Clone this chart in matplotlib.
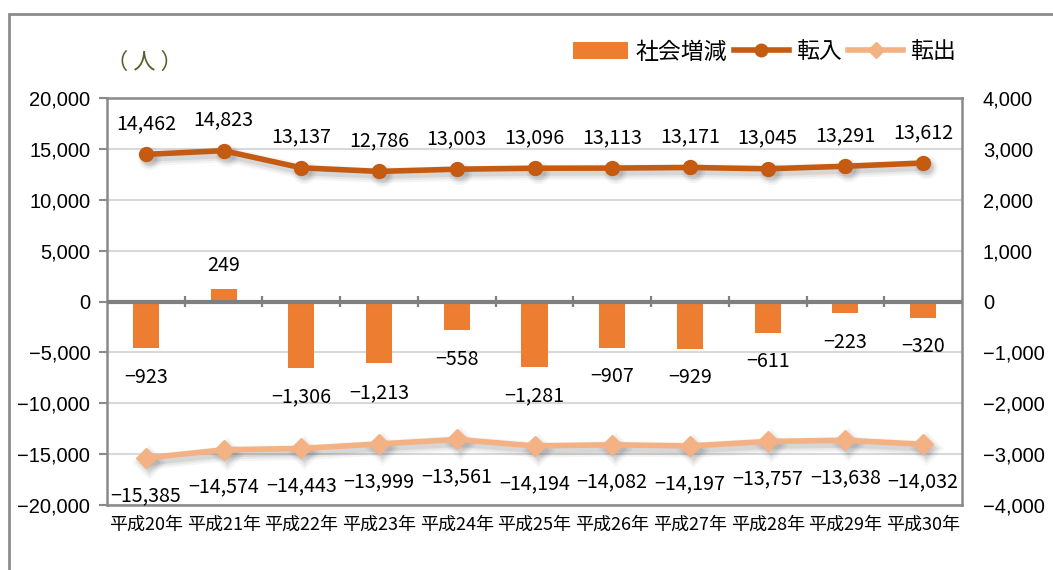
import matplotlib
matplotlib.use("Agg")
import matplotlib.pyplot as plt
import matplotlib.transforms as mtransforms
from matplotlib.lines import Line2D
from matplotlib.patches import Patch, Rectangle
import numpy as np

# ---- data -------------------------------------------------------------
years = ["平成20年", "平成21年", "平成22年", "平成23年", "平成24年", "平成25年",
         "平成26年", "平成27年", "平成28年", "平成29年", "平成30年"]
net_change = [-923, 249, -1306, -1213, -558, -1281, -907, -929, -611, -223, -320]
move_in = [14462, 14823, 13137, 12786, 13003, 13096, 13113, 13171, 13045, 13291, 13612]
move_out = [-15385, -14574, -14443, -13999, -13561, -14194, -14082, -14197, -13757, -13638, -14032]
left_ticks = [-20000, -15000, -10000, -5000, 0, 5000, 10000, 15000, 20000]
right_ticks = [-4000, -3000, -2000, -1000, 0, 1000, 2000, 3000, 4000]

# ---- style ------------------------------------------------------------
C_BAR = "#ED7D31"
C_IN = "#C55A11"
C_OUT = "#F4B183"
C_AXIS = "#8A8A8A"
C_GRID = "#D9D9D9"
JP = ["Noto Sans CJK JP", "DejaVu Sans"]
NUM = ["Liberation Sans", "DejaVu Sans"]


def fmt(v):
    return f"{v:,}".replace("-", "\u2212")


fig = plt.figure(figsize=(10.53, 5.70), dpi=100)
W, H = 1053, 570
ax1 = fig.add_axes([107 / W, 1 - 505 / H, (962 - 107) / W, (505 - 98) / H])
ax2 = ax1.twinx()

x = np.arange(len(years))

# frame around the whole chart
fig.patches.append(Rectangle((9 / W, -0.05), 1.2, 1 - 14 / H + 0.05,
                             transform=fig.transFigure, fill=False,
                             edgecolor="#8C8C8C", linewidth=2.0, zorder=0))


def soft_shadow(ax, xs, ys, marker, ms):
    """Blurred drop shadow under a line series."""
    tr = mtransforms.offset_copy(ax.transData, fig=fig, x=3, y=-4, units="dots")
    for lw, a in [(11, 0.05), (8, 0.07), (5, 0.10)]:
        ax.plot(xs, ys, color="#404040", lw=lw, alpha=a, marker=marker,
                ms=ms + lw - 4, mec="none", transform=tr, zorder=4,
                solid_capstyle="round")


# ---- left axis: move-in / move-out lines ------------------------------
soft_shadow(ax1, x, move_in, "o", 10)
soft_shadow(ax1, x, move_out, "D", 10)
ax1.plot(x, move_in, color=C_IN, lw=4, marker="o", ms=10, zorder=5)
ax1.plot(x, move_out, color=C_OUT, lw=4, marker="D", ms=10, zorder=5)

ax1.set_ylim(-20000, 20000)
ax1.set_yticks(left_ticks)
ax1.set_yticklabels([fmt(v) for v in left_ticks], fontfamily=NUM, fontsize=14.5)
ax1.set_xlim(-0.5, len(years) - 0.5)
ax1.set_xticks(x)
ax1.set_xticklabels(years, fontfamily=JP, fontsize=13)
ax1.tick_params(axis="x", length=0, pad=8)
ax1.tick_params(axis="y", direction="out", length=6, width=1.5, color=C_AXIS, pad=6)
ax1.grid(axis="y", color=C_GRID, lw=1.5, zorder=0)
ax1.set_axisbelow(True)
for s in ax1.spines.values():
    s.set_color(C_AXIS)
    s.set_linewidth(1.8)

# move-in labels above the points, move-out labels below
for xi, v in zip(x, move_in):
    ax1.annotate(fmt(v), (xi, v), xytext=(0, 22), textcoords="offset points",
                 ha="center", va="center", fontfamily=JP, fontsize=14.2)
for xi, v in zip(x, move_out):
    ax1.annotate(fmt(v), (xi, v), xytext=(0, -27), textcoords="offset points",
                 ha="center", va="center", fontfamily=JP, fontsize=14.2)

# ---- right axis: net change bars --------------------------------------
ax2.bar(x, net_change, width=0.335, color=C_BAR, zorder=3)
ax2.set_ylim(-4000, 4000)
ax2.set_yticks(right_ticks)
ax2.set_yticklabels([fmt(v) for v in right_ticks], fontfamily=NUM, fontsize=14.5)
ax2.tick_params(axis="y", length=0, pad=15)
for s in ax2.spines.values():
    s.set_visible(False)

# zero line with category separators
ax2.axhline(0, color="#7F7F7F", lw=3, zorder=4)
sep = mtransforms.blended_transform_factory(ax2.transData, ax2.transAxes)
ax2.vlines(x[:-1] + 0.5, 0.5 - 0.013, 0.5 + 0.013, transform=sep,
           color="#7F7F7F", lw=1.6, zorder=4)

for xi, v in zip(x, net_change):
    off = 16.5 if v > 0 else -21
    ax2.annotate(fmt(v), (xi, v), xytext=(0, off), textcoords="offset points",
                 ha="center", va="center", fontfamily=JP, fontsize=14.2)

# ---- unit label and legend --------------------------------------------
fig.text(106 / W, 1 - 62 / H, "（ 人 ）", color="#4F6228", fontfamily=JP,
         fontsize=16, ha="left", va="center")

handles = [Patch(facecolor=C_BAR, edgecolor="none"),
           Line2D([], [], color=C_IN, lw=4, marker="o", ms=9),
           Line2D([], [], color=C_OUT, lw=4, marker="D", ms=8)]
fig.legend(handles, ["社会増減", "転入", "転出"], ncol=3, frameon=False,
           loc="center right", bbox_to_anchor=(965 / W, 1 - 52 / H),
           prop={"family": JP, "size": 16.5}, handlelength=2.4,
           handletextpad=0.3, columnspacing=0.3, borderaxespad=0)

fig.savefig("out.png", dpi=100)
